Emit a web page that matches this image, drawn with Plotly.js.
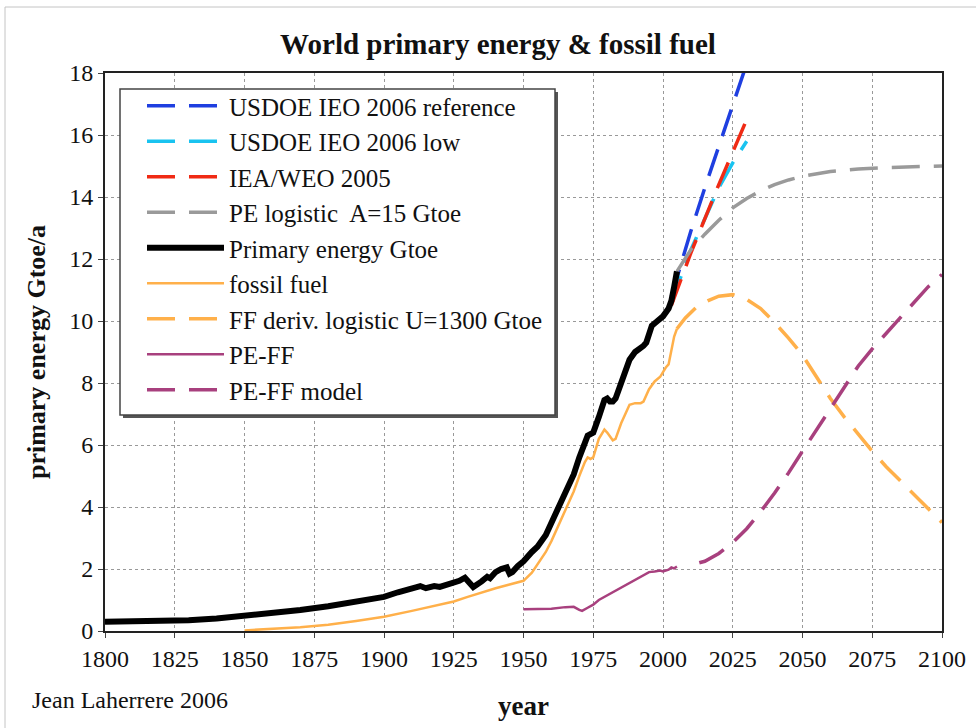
<!DOCTYPE html>
<html>
<head>
<meta charset="utf-8">
<script src="https://cdn.plot.ly/plotly-3.0.1.min.js"></script>
<style>html,body{margin:0;padding:0;background:#fff;}#chart{width:976px;height:728px;}</style>
</head>
<body>
<div id="chart"></div>
<script>
// ---- data ----
const peYears = [1800,1810,1820,1830,1840,1850,1860,1870,1880,1890,1900,1905,1910,1913,1915,1918,1920,1923,1925,1927,1929,1932,1935,1937,1938,1940,1942,1944,1945,1946,1948,1950,1953,1955,1958,1960,1963,1965,1968,1970,1972,1973,1974,1975,1977,1979,1980,1981,1982,1983,1985,1987,1988,1990,1992,1993,1994,1996,1998,2000,2002,2003,2004,2005];
const peValues = [0.30,0.31,0.33,0.35,0.40,0.48,0.58,0.68,0.80,0.95,1.10,1.25,1.38,1.45,1.38,1.45,1.42,1.50,1.55,1.62,1.72,1.42,1.60,1.75,1.70,1.90,2.00,2.05,1.85,1.90,2.10,2.25,2.55,2.72,3.10,3.50,4.05,4.45,5.05,5.60,6.10,6.30,6.35,6.40,6.90,7.45,7.50,7.40,7.40,7.50,8.00,8.45,8.75,9.00,9.10,9.20,9.30,9.85,10.00,10.15,10.40,10.65,11.10,11.60];

const ffYears = [1850,1860,1870,1875,1880,1890,1900,1910,1920,1925,1930,1935,1940,1945,1950,1953,1955,1958,1960,1963,1965,1968,1970,1972,1973,1974,1975,1977,1979,1980,1982,1983,1985,1988,1990,1992,1993,1995,1997,1999,2000,2001,2002,2003,2004,2005];
const ffValues = [0.02,0.06,0.12,0.16,0.20,0.32,0.46,0.65,0.85,0.95,1.10,1.25,1.38,1.50,1.62,1.88,2.15,2.55,2.90,3.50,3.90,4.50,5.00,5.45,5.60,5.55,5.60,6.20,6.50,6.40,6.15,6.20,6.70,7.30,7.35,7.35,7.40,7.80,8.05,8.20,8.35,8.50,8.60,9.00,9.50,9.75];

const peffYears = [1950,1955,1960,1965,1968,1970,1971,1973,1975,1977,1980,1983,1985,1988,1990,1993,1995,1997,1999,2000,2002,2003,2004,2005];
const peffValues = [0.70,0.72,0.72,0.77,0.78,0.68,0.65,0.75,0.85,1.00,1.15,1.30,1.42,1.55,1.65,1.82,1.90,1.92,1.95,1.92,1.98,2.05,2.02,2.08];

const doeRefYears = [2003,2010,2015,2020,2025,2030];
const doeRefValues = [10.8,12.9,14.3,15.6,16.9,18.3];
const doeLowYears = [2003,2010,2015,2020,2025,2030];
const doeLowValues = [10.6,12.3,13.3,14.3,15.1,15.8];
const weoYears = [2003,2010,2020,2030];
const weoValues = [10.5,12.2,14.4,16.5];

const peLogYears = [2005,2010,2015,2020,2025,2030,2035,2040,2045,2050,2060,2070,2080,2090,2100];
const peLogValues = [11.6,12.3,12.8,13.25,13.65,13.95,14.2,14.4,14.55,14.67,14.82,14.9,14.95,14.98,15.0];

const ffLogYears = [2005,2008,2012,2016,2020,2025,2030,2035,2040,2045,2050,2055,2060,2065,2070,2075,2080,2085,2090,2095,2100];
const ffLogValues = [9.75,10.1,10.45,10.65,10.8,10.85,10.7,10.4,9.95,9.45,8.9,8.2,7.5,6.9,6.35,5.8,5.3,4.85,4.4,3.95,3.5];

const peffModelYears = [2013,2015,2020,2025,2030,2035,2040,2045,2050,2055,2060,2065,2070,2075,2080,2085,2090,2095,2100];
const peffModelValues = [2.2,2.25,2.5,2.85,3.3,3.85,4.45,5.1,5.8,6.5,7.2,7.9,8.55,9.1,9.6,10.1,10.6,11.1,11.5];

const names = ['USDOE IEO 2006 reference','USDOE IEO 2006 low','IEA/WEO 2005','PE logistic  A=15 Gtoe','Primary energy Gtoe','fossil fuel','FF deriv. logistic U=1300 Gtoe','PE-FF','PE-FF model'];

// ---- chart ----
const FONT = '"Liberation Serif", "Times New Roman", Times, serif';
const DASH = '28px,14px';
function tr(x, y, name, color, width, dash) {
  return {x: x, y: y, name: name, type: 'scatter', mode: 'lines',
          line: {color: color, width: width, dash: dash || 'solid'}, hoverinfo: 'skip'};
}
const data = [
  tr(doeRefYears, doeRefValues, names[0], '#1f3fe0', 3.5, DASH),
  tr(doeLowYears, doeLowValues, names[1], '#19c3f0', 3.5, DASH),
  tr(weoYears, weoValues, names[2], '#f02a14', 3.5, DASH),
  tr(peLogYears, peLogValues, names[3], '#9a9a9a', 3.5, DASH),
  tr(peYears, peValues, names[4], '#000000', 6),
  tr(ffYears, ffValues, names[5], '#ffb04a', 2.5),
  tr(ffLogYears, ffLogValues, names[6], '#ffb04a', 3.5, DASH),
  tr(peffYears, peffValues, names[7], '#a8407e', 2.5),
  tr(peffModelYears, peffModelValues, names[8], '#a8407e', 3.5, DASH)
];

const L = 105, R = 942, T = 73, B = 631;
const pw = R - L, ph = B - T;
const px = v => (v - L) / pw;
const py = v => (B - v) / ph;

const layout = {
  width: 976, height: 728,
  margin: {l: L, r: 976 - R, t: T, b: 728 - B},
  paper_bgcolor: '#ffffff', plot_bgcolor: '#ffffff',
  font: {family: FONT, color: '#111', size: 24},
  title: {text: '<b>World primary energy & fossil fuel</b>', font: {family: FONT, size: 29, color: '#111'},
          xref: 'paper', x: px(498), xanchor: 'center', yref: 'container', y: 1 - 44/728, yanchor: 'middle'},
  showlegend: true,
  legend: {x: px(142), y: py(83), xanchor: 'left', yanchor: 'top', bgcolor: 'rgba(0,0,0,0)',
           borderwidth: 0, font: {family: FONT, size: 25, color: '#111'},
           itemwidth: 77, tracegroupgap: 0, traceorder: 'normal'},
  xaxis: {range: [1800, 2100], tick0: 1800, dtick: 25, showgrid: true, gridcolor: '#999', griddash: 'dot', gridwidth: 1,
          showline: true, linecolor: '#222', linewidth: 2, mirror: true, ticks: 'outside', ticklen: 5, tickcolor: '#444',
          zeroline: false, tickfont: {family: FONT, size: 24, color: '#111'},
          title: {text: '<b>year</b>', font: {family: FONT, size: 27, color: '#111'}, standoff: 25}},
  yaxis: {range: [0, 18], tick0: 0, dtick: 2, showgrid: true, gridcolor: '#999', griddash: 'dot', gridwidth: 1,
          showline: true, linecolor: '#222', linewidth: 2, mirror: true, ticks: 'outside', ticklen: 5, tickcolor: '#444',
          zeroline: false, tickfont: {family: FONT, size: 24, color: '#111'},
          title: {text: '<b>primary energy Gtoe/a</b>', font: {family: FONT, size: 26, color: '#111'}, standoff: 16}},
  annotations: [
    {text: 'Jean Laherrere 2006', xref: 'paper', yref: 'paper', x: px(30), y: py(700), xanchor: 'left', yanchor: 'middle',
     showarrow: false, font: {family: FONT, size: 24, color: '#111'}}
  ],
  shapes: [
    {type: 'rect', xref: 'paper', yref: 'paper', x0: px(5), x1: px(1000), y0: py(760), y1: py(7),
     line: {color: '#c4c4c4', width: 1}, fillcolor: 'rgba(0,0,0,0)', layer: 'below'},
    {type: 'rect', xref: 'paper', yref: 'paper', x0: px(123), x1: px(558), y0: py(418), y1: py(92),
     line: {width: 0}, fillcolor: '#555555', layer: 'above'},
    {type: 'rect', xref: 'paper', yref: 'paper', x0: px(120), x1: px(555), y0: py(415), y1: py(89),
     line: {color: '#444444', width: 1.5}, fillcolor: '#ffffff', layer: 'above'}
  ]
};

Plotly.newPlot('chart', data, layout, {displayModeBar: false, staticPlot: true});
</script>
</body>
</html>
